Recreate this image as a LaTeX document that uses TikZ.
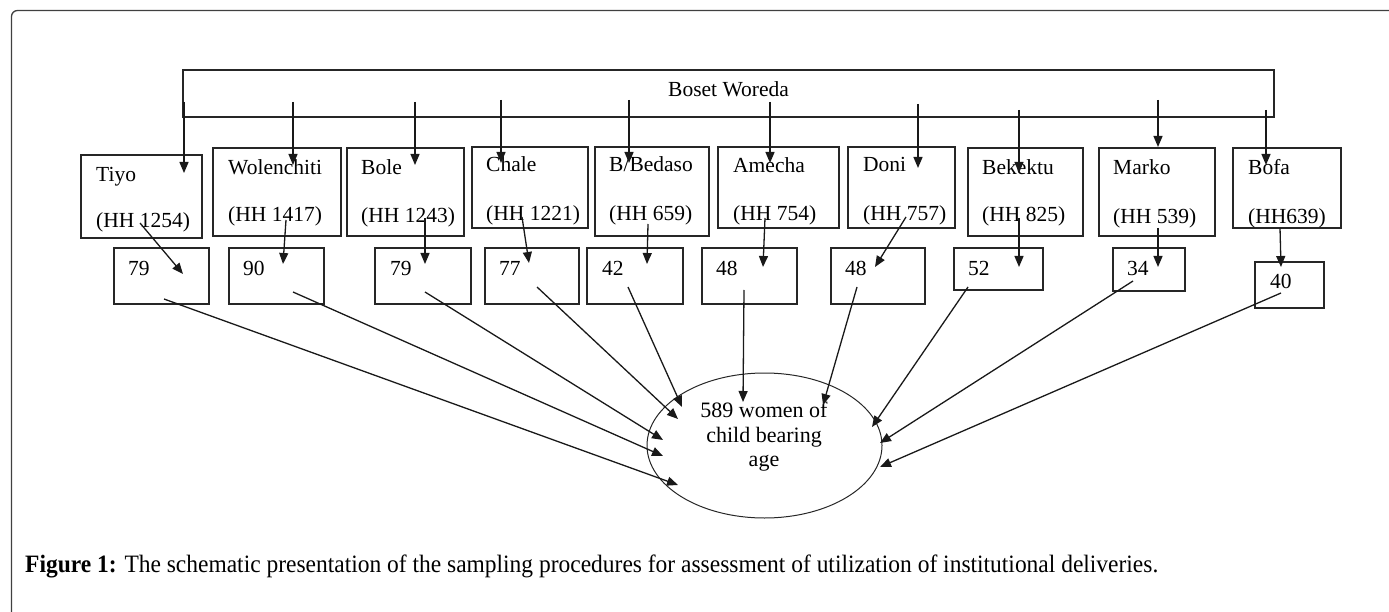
\documentclass[tikz,border=0pt]{standalone}
\usepackage{fontspec}
\setmainfont{Liberation Serif}
\usepackage{graphicx}
\usetikzlibrary{fit,shapes.geometric,arrows.meta}
\begin{document}
\begin{tikzpicture}[x=1pt,y=-1pt,
  box/.style={draw=black!85, line width=1.2pt, inner sep=0pt},
  lbl/.style={anchor=base west, inner sep=0pt, font=\fontsize{21.5}{24}\selectfont},
  arr/.style={-{Triangle[length=11pt,width=9pt]}, line width=1.3pt, black!90},
  frame/.style={draw=black!75, line width=1.3pt, rounded corners=6pt}]
\useasboundingbox (0,0) rectangle (1389,612);
% outer frame
\draw[frame] (1389,10.5) -- (11.5,10.5) -- (11.5,612);
% woreda box
\node[box, fit={(183,70) (1274,117)}] (woreda) {};
\node[anchor=base, inner sep=0pt, font=\fontsize{21.5}{24}\selectfont] (woredat) at (728.5,97) {Boset Woreda};
% kebele boxes
\foreach \n/\a/\b/\c/\d in {tiyo/81/155/202/238, wolen/213/148/341/236, bole/347/148/464/236,
  chale/472/147/588/228, bbed/595/147/709/236, amecha/718/147/839/228, doni/848/147/955/228,
  bekek/968/148/1083/236, marko/1099/148/1215/236, bofa/1233/148/1341/228}
  {\node[box, fit={(\a,\b) (\c,\d)}] (\n) {};}
% kebele labels
\foreach \n/\x/\ya/\yb/\name/\hh in {tiyo/96/182/228/Tiyo/(HH 1254), wolen/228/175/222/Wolenchiti/(HH 1417),
  bole/361/175/223/Bole/(HH 1243), chale/486/172/221/Chale/(HH 1221),
  amecha/733/173/221/Amecha/(HH 754), doni/863/172/221/Doni/(HH 757),
  bekek/982/175/222/Bekektu/(HH 825), marko/1113/175/224/Marko/(HH 539), bofa/1248/175/224/Bofa/(HH639)}
  {\node[lbl] (\n-a) at (\x,\ya) {\name}; \node[lbl] (\n-b) at (\x,\yb) {\hh};}
\node[lbl] (bbed-a) at (609,172) {B/Bedaso};
\node[lbl] (bbed-b) at (609,221) {(HH 659)};
% number boxes
\foreach \n/\a/\b/\c/\d/\v/\tx/\ty in {n1/114/248/209/304/79/128/276, n2/229/248/324/304/90/243/276,
  n3/375/248/471/304/79/390/276, n4/485/248/579/304/77/499/276, n5/587/248/683/304/42/602/276,
  n6/702/248/797/304/48/716/276, n7/831/248/925/304/48/845/276, n8/954/248/1043/290/52/968/276,
  n9/1113/248/1185/291/34/1127/276, n10/1255/262/1324/308/40/1270/288}
  {\node[box, fit={(\a,\b) (\c,\d)}] (\n) {};
   \node[lbl] (\n-t) at (\tx,\ty) {\v};}
% target ellipse
\node[draw=black!85, line width=1pt, ellipse, minimum width=235pt, minimum height=145pt, inner sep=0pt] (women) at (764.5,445.5) {};
\node[inner sep=0pt, align=center, font=\fontsize{22}{24.5}\selectfont] (womentext) at (764,437) {589 women of\\child bearing\\age};
% arrows from woreda
\foreach \i/\x/\ya/\yb in {1/184/102/173, 2/293/102/165, 3/415/102/165, 4/501/100/163, 5/629/100/163,
  6/770/102/163, 7/918/104/168, 8/1019/110/173, 9/1158/100/147, 10/1266/110/165}
  {\coordinate (ws\i) at (\x,\ya); \coordinate (we\i) at (\x,\yb); \draw[arr] (ws\i) -- (we\i);}
% arrows from kebele to number
\foreach \i/\xa/\ya/\xb/\yb in {1/140/223/183/274, 2/286/220/283/264, 3/425/218/425/264, 4/522/217/529/263,
  5/648/224/647/264, 6/765/218/763/267, 7/906/217/875/267, 8/1019/218/1019/267, 9/1158/228/1158/267,
  10/1280/228/1281/267}
  {\coordinate (ks\i) at (\xa,\ya); \coordinate (ke\i) at (\xb,\yb); \draw[arr] (ks\i) -- (ke\i);}
% arrows to ellipse
\foreach \i/\xa/\ya/\xb/\yb in {1/164/299/678/485, 2/293/292/663/456, 3/425/292/663/440, 4/537/287/678/419,
  5/628/287/682/407, 6/744/290/743/402, 7/857/287/823/405, 8/968/287/872/427, 9/1133/281/880/443,
  10/1281/293/880/467}
  {\coordinate (cs\i) at (\xa,\ya); \coordinate (ce\i) at (\xb,\yb); \draw[arr] (cs\i) -- (ce\i);}
% caption
\node[anchor=base west, inner sep=0pt, font=\fontsize{25}{30}\selectfont] (caption) at (25,572)
  {\resizebox{1133pt}{\height}{\textbf{Figure 1:} The schematic presentation of the sampling procedures for assessment of utilization of institutional deliveries.}};
\end{tikzpicture}
\end{document}
